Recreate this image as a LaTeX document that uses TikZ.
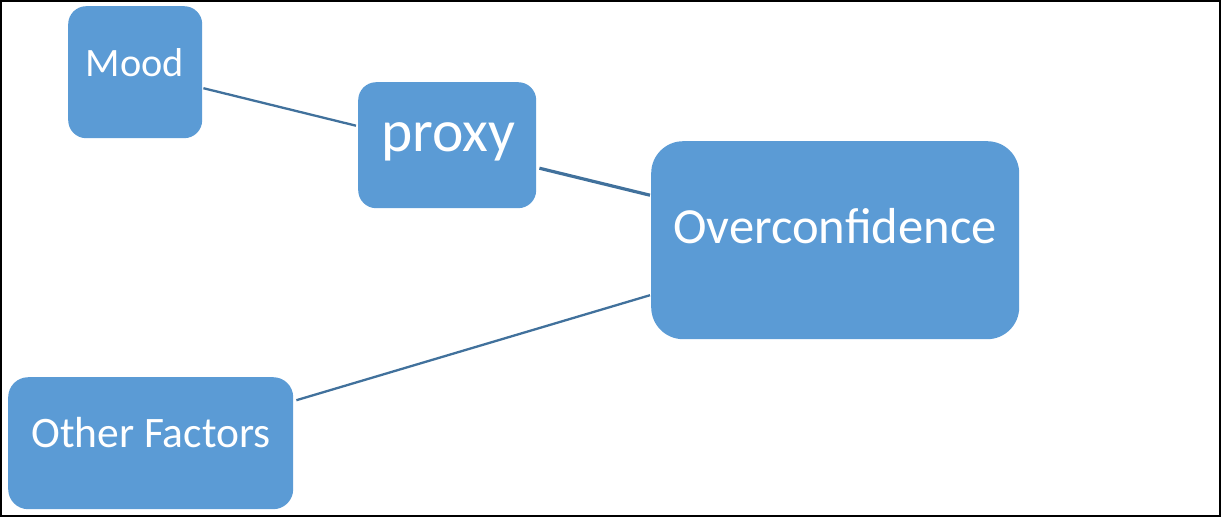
\documentclass[tikz,border=0pt]{standalone}
\usepackage{fontspec}
\setmainfont{Carlito}
\usetikzlibrary{calc}
\definecolor{boxblue}{HTML}{5B9BD5}
\definecolor{linkblue}{HTML}{41719C}
\begin{document}
\begin{tikzpicture}[x=1pt,y=-1pt,
  box/.style={fill=boxblue, draw=none, rounded corners=#1, inner sep=0pt, anchor=north west},
  boxtext/.style={text=white, anchor=base, inner sep=0pt},
  link/.style={draw=linkblue, line width=#1}
]
\useasboundingbox (0,0) rectangle (1221,517);
\draw[line width=2pt] (1,1) rectangle (1220,516);

\node[box=18pt, minimum width=134pt, minimum height=132pt] (mood) at (68,6) {};
\node[box=18pt, minimum width=178pt, minimum height=126pt] (proxy) at (358,82) {};
\node[box=32pt, minimum width=368pt, minimum height=198pt] (over) at (651,141) {};
\node[box=20pt, minimum width=285pt, minimum height=132pt] (other) at (8,377) {};

\node[boxtext, font=\fontsize{40.3}{40}\selectfont] (moodt) at (135,76) {Mood};
\node[boxtext, font=\fontsize{59.5}{59}\selectfont] (proxyt) at (448,151) {proxy};
\node[boxtext, font=\fontsize{50.6}{50}\selectfont] (overt) at (835,243) {Overconfidence};
\node[boxtext, font=\fontsize{43.5}{43}\selectfont] (othert) at (151,447) {Other Factors};

\draw[link=2.3pt] ($(mood.east)+(1,16)$) -- ($(proxy.west)+(-2,-19.5)$);
\draw[link=3.2pt] ($(proxy.east)+(3,23)$) -- ($(over.west)+(-1,-45)$);
\draw[link=2.3pt] ($(other.east)+(3,-43)$) -- ($(over.west)+(-1,55)$);
\end{tikzpicture}
\end{document}
